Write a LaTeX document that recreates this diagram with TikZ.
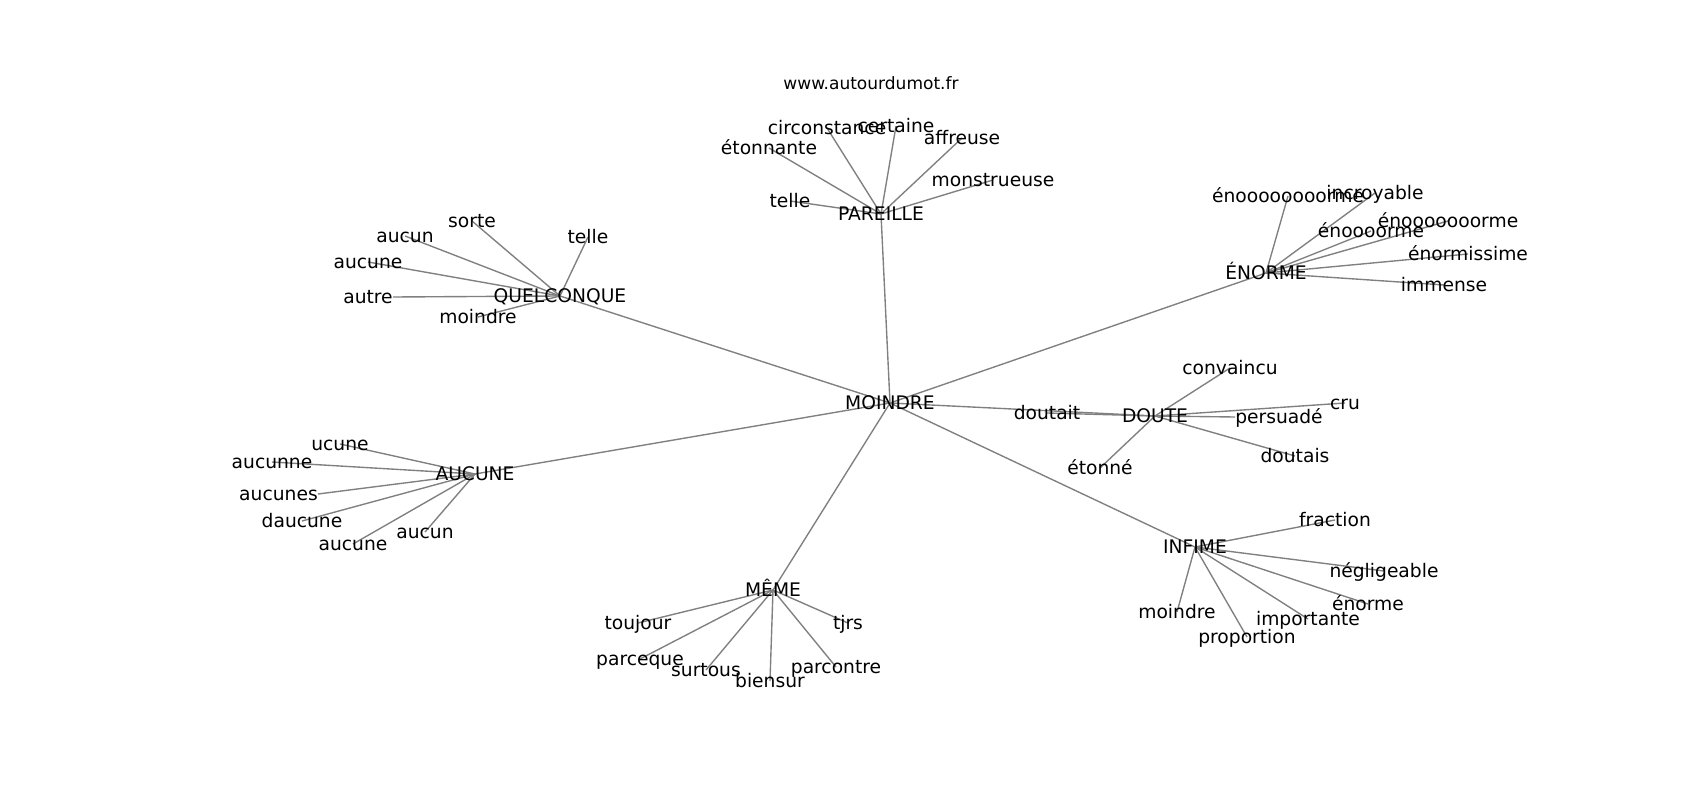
\documentclass[tikz,border=0pt]{standalone}
\usepackage{fontspec}
\setmainfont{DejaVu Sans}
\usetikzlibrary{backgrounds}
\tikzset{
  word/.style={inner sep=0pt, text height=13.2pt, text depth=3.2pt, font=\fontsize{13.5}{16}\selectfont},
  link/.style={draw=gray, line width=1pt}
}

\begin{document}
\begin{tikzpicture}[x=0.01in, y=-0.01in]
\useasboundingbox (0,0) rectangle (1700,800);
\node[font=\fontsize{12.3}{15}\selectfont] (site) at (871,83) {www.autourdumot.fr};

\node[word] (moindre) at (890,403) {MOINDRE};

\node[word] (pareille) at (881,214) {PAREILLE};
\node[word] (p-circ) at (827,128) {circonstance};
\node[word] (p-cert) at (896,126) {certaine};
\node[word] (p-eton) at (769,148) {étonnante};
\node[word] (p-affr) at (962,138) {affreuse};
\node[word] (p-mons) at (993,180) {monstrueuse};
\node[word] (p-tell) at (790,201) {telle};

\node[word] (quelconque) at (560,296) {QUELCONQUE};
\node[word] (q-sort) at (472,221) {sorte};
\node[word] (q-aucn) at (405,236) {aucun};
\node[word] (q-tell) at (588,237) {telle};
\node[word] (q-aucu) at (368,262) {aucune};
\node[word, anchor=east] (q-autr) at (393,297) {autre};
\node[word] (q-moin) at (478,317) {moindre};

\node[word] (aucune) at (475,474) {AUCUNE};
\node[word] (a-ucun) at (340,444) {ucune};
\node[word] (a-aunn) at (272,462) {aucunne};
\node[word, anchor=east] (a-auns) at (318,494) {aucunes};
\node[word] (a-dauc) at (302,521) {daucune};
\node[word] (a-aucu) at (353,544) {aucune};
\node[word] (a-aucn) at (425,532) {aucun};

\node[word] (meme) at (773,590) {MÊME};
\node[word] (m-touj) at (638,623) {toujour};
\node[word] (m-tjrs) at (848,623) {tjrs};
\node[word] (m-parq) at (640,659) {parceque};
\node[word] (m-surt) at (706,670) {surtous};
\node[word] (m-bien) at (770,681) {biensur};
\node[word] (m-parc) at (836,667) {parcontre};

\node[word] (doute) at (1155,416) {DOUTE};
\node[word] (d-conv) at (1230,368) {convaincu};
\node[word] (d-tait) at (1047,413) {doutait};
\node[word] (d-eton) at (1100,468) {étonné};
\node[word] (d-cru) at (1345,403) {cru};
\node[word, anchor=west] (d-pers) at (1235,417) {persuadé};
\node[word] (d-tais) at (1295,456) {doutais};

\node[word] (enorme) at (1266,273) {ÉNORME};
\node[word] (e-o8) at (1288,196) {énoooooooorme};
\node[word] (e-incr) at (1375,193) {incroyable};
\node[word] (e-o7) at (1448,221) {énooooooorme};
\node[word] (e-o4) at (1371,231) {énoooorme};
\node[word] (e-miss) at (1468,254) {énormissime};
\node[word] (e-imme) at (1444,285) {immense};

\node[word] (infime) at (1195,547) {INFIME};
\node[word] (i-frac) at (1335,520) {fraction};
\node[word] (i-negl) at (1384,571) {négligeable};
\node[word] (i-enor) at (1368,604) {énorme};
\node[word] (i-impo) at (1308,619) {importante};
\node[word] (i-prop) at (1247,637) {proportion};
\node[word] (i-moin) at (1177,612) {moindre};

\begin{scope}[on background layer]
\foreach \hub in {pareille, quelconque, aucune, meme, doute, enorme, infime}
  \draw[link] (moindre.center) -- (\hub.center);
\foreach \leaf in {p-circ, p-cert, p-eton, p-affr, p-mons, p-tell}
  \draw[link] (pareille.center) -- (\leaf.center);
\foreach \leaf in {q-sort, q-aucn, q-tell, q-aucu, q-moin}
  \draw[link] (quelconque.center) -- (\leaf.center);
\draw[link] (quelconque.center) -- (q-autr.east);
\foreach \leaf in {a-ucun, a-aunn, a-dauc, a-aucu, a-aucn}
  \draw[link] (aucune.center) -- (\leaf.center);
\draw[link] (aucune.center) -- (a-auns.east);
\foreach \leaf in {m-touj, m-tjrs, m-parq, m-surt, m-bien, m-parc}
  \draw[link] (meme.center) -- (\leaf.center);
\foreach \leaf in {d-conv, d-tait, d-eton, d-cru, d-tais}
  \draw[link] (doute.center) -- (\leaf.center);
\draw[link] (doute.center) -- (d-pers.west);
\foreach \leaf in {e-o8, e-incr, e-o7, e-o4, e-miss, e-imme}
  \draw[link] (enorme.center) -- (\leaf.center);
\foreach \leaf in {i-frac, i-negl, i-enor, i-impo, i-prop, i-moin}
  \draw[link] (infime.center) -- (\leaf.center);
\end{scope}
\end{tikzpicture}
\end{document}
